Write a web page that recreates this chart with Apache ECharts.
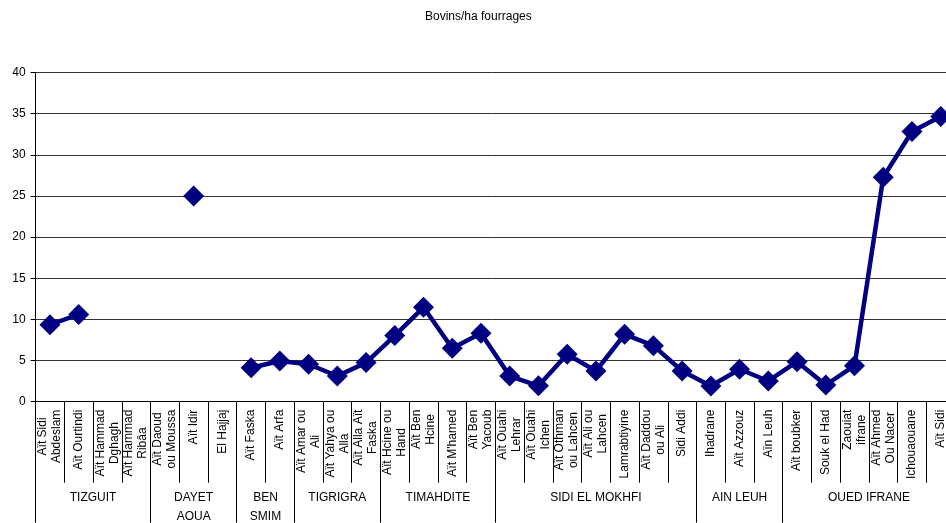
<!DOCTYPE html>
<html>
<head>
<meta charset="utf-8">
<script src="https://cdn.jsdelivr.net/npm/echarts@6/dist/echarts.min.js"></script>
<style>
  html, body { margin: 0; padding: 0; background: #fff; }
  #chart { width: 946px; height: 523px; }
</style>
</head>
<body>
<div id="chart"></div>
<script>
// Communes (category axis), one per point
const communes = [
  'Aït Sidi\nAbdeslam', 'Aït Ourtindi', 'Aït Hammad\nDghagh', 'Aït Hammad\nRibâa',
  'Aït Daoud\nou Moussa', 'Aït Idir', 'El Hajjaj',
  'Aït Faska', 'Aït Arfa',
  'Aït Amar ou\nAli', 'Aït Yahya ou\nAlla', 'Aït Alla Aït\nFaska',
  'Aït Hcine ou\nHand', 'Aït Ben\nHcine', "Aït M'hamed", 'Aït Ben\nYacoub',
  'Aït Ouahi\nLehrar', 'Aït Ouahi\nIchen', 'Aït Othman\nou Lahcen', 'Aït Ali ou\nLahcen',
  'Lamrabtiyine', 'Aït Daddou\nou Ali', 'Sidi Addi',
  'Ihadrane', 'Aït Azzouz', 'Aïn Leuh',
  'Aït boubker', 'Souk el Had', 'Zaouiat\nifrane', 'Aït Ahmed\nOu Nacer', 'Ichouaouane', 'Aït Sidi'
];

// Bovins par hectare de fourrages (null = pas de donnée)
const bovinsParHa = [
  9.35, 10.6, null, null,
  null, 25.0, null,
  4.13, 4.95,
  4.55, 3.12, 4.75,
  8.03, 11.47, 6.49, 8.31,
  3.12, 1.93, 5.76, 3.73,
  8.19, 6.81, 3.73,
  1.91, 3.94, 2.52,
  4.86, 2.03, 4.38, 27.28, 32.83, 34.65
];

// Groupes de communes et nombre de communes par groupe
const groupes = ['TIZGUIT', 'DAYET\nAOUA', 'BEN\nSMIM', 'TIGRIGRA', 'TIMAHDITE', 'SIDI EL MOKHFI', 'AIN LEUH', 'OUED IFRANE'];
const tailleGroupes = [4, 3, 2, 3, 4, 7, 3, 6];

// Graduations de l'axe vertical
const yMin = 0, yMax = 40, yPas = 5;

const FONT = '"Liberation Sans", Arial, sans-serif';

// Index of the first commune of each group
const debutsGroupes = [];
{
  let acc = 0;
  tailleGroupes.forEach(n => { debutsGroupes.push(acc); acc += n; });
}
const debutSet = new Set(debutsGroupes);

const chart = echarts.init(document.getElementById('chart'), null, { renderer: 'canvas' });

const option = {
  animation: false,
  backgroundColor: '#fff',
  title: {
    text: 'Bovins/ha fourrages',
    left: 425,
    top: 10,
    padding: 0,
    textStyle: { fontSize: 12, fontWeight: 'normal', color: '#000', fontFamily: FONT, lineHeight: 14 }
  },
  // the plot runs slightly past the right edge of the page
  grid: { left: 35.6, width: 919.5, top: 72.5, height: 329.2, containLabel: false, outerBoundsMode: 'none' },
  xAxis: [
    {
      type: 'category',
      data: communes,
      boundaryGap: true,
      axisLine: { show: true, lineStyle: { color: '#000', width: 1 } },
      axisTick: { show: true, interval: 0, length: 81, lineStyle: { color: '#000', width: 1 } },
      axisLabel: {
        interval: 0,
        rotate: 90,
        margin: 8,
        color: '#000',
        fontSize: 12,
        lineHeight: 14,
        fontFamily: FONT,
        formatter: v => v.split('\n').map(s => '{c|' + s + '}').join('\n'),
        rich: { c: { align: 'center', fontSize: 12, lineHeight: 14, fontFamily: FONT, color: '#000' } }
      },
      splitLine: { show: false }
    },
    {
      type: 'category',
      data: communes,
      position: 'bottom',
      boundaryGap: true,
      axisLine: { show: false },
      axisLabel: { show: false },
      axisTick: { show: true, interval: (i) => debutSet.has(i), length: 121, lineStyle: { color: '#000', width: 1 } },
      splitLine: { show: false }
    }
  ],
  yAxis: {
    type: 'value',
    min: yMin,
    max: yMax,
    interval: yPas,
    axisLine: { show: true, lineStyle: { color: '#000', width: 1 } },
    axisTick: { show: true, length: 5, lineStyle: { color: '#000' } },
    axisLabel: { color: '#000', fontSize: 12, margin: 10, fontFamily: FONT },
    splitLine: { show: true, lineStyle: { color: '#333', width: 1 } }
  },
  series: [
    {
      type: 'line',
      data: bovinsParHa,
      connectNulls: false,
      symbol: 'diamond',
      symbolSize: 21,
      showAllSymbol: true,
      lineStyle: { color: '#000080', width: 4.5 },
      itemStyle: { color: '#000080' },
      z: 3
    }
  ]
};

chart.setOption(option);

// Group names centred under each group of communes
const textes = groupes.map((nom, g) => {
  const first = debutsGroupes[g];
  const last = first + tailleGroupes[g] - 1;
  const x0 = chart.convertToPixel({ xAxisIndex: 0 }, first);
  const x1 = chart.convertToPixel({ xAxisIndex: 0 }, last);
  return {
    type: 'text',
    x: (x0 + x1) / 2,
    y: 488.5,
    style: {
      text: nom,
      align: 'center',
      verticalAlign: 'top',
      fontSize: 12,
      lineHeight: 19,
      fontFamily: FONT,
      fill: '#000'
    }
  };
});
chart.setOption({ graphic: textes });
</script>
</body>
</html>
